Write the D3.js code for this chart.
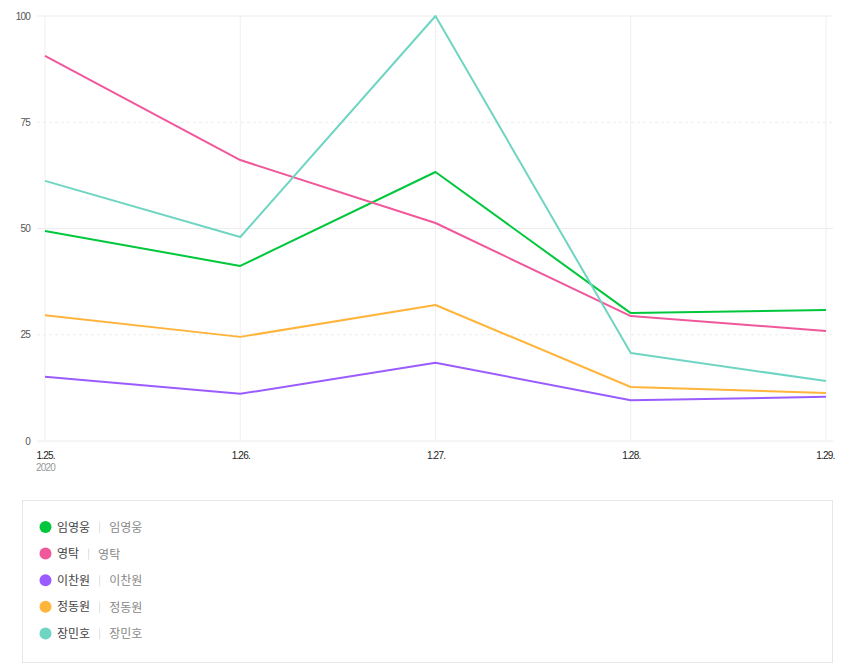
<!DOCTYPE html>
<html><head><meta charset="utf-8">
<script src="https://cdn.jsdelivr.net/npm/d3@7"></script>
<style>
body{margin:0;background:#fff;font-family:"Noto Sans CJK KR","Noto Sans",sans-serif;}
</style></head><body>
<svg id="chart" width="850" height="672"></svg>
<script>
const dates = ["1.25.", "1.26.", "1.27.", "1.28.", "1.29."];
const yearLabel = "2020";
const yTicks = [0, 25, 50, 75, 100];
const names = ["임영웅", "영탁", "이찬원", "정동원", "장민호"];
const colors = ["#00c73c", "#f0589b", "#9b5cff", "#ffb43c", "#6fd5c3"];
const s_limyoungwoong = [49.4, 41.2, 63.3, 30.1, 30.8];
const s_youngtak = [90.6, 66.1, 51.3, 29.4, 25.9];
const s_leechanwon = [15.1, 11.1, 18.4, 9.6, 10.4];
const s_jungdongwon = [29.6, 24.5, 32.0, 12.7, 11.3];
const s_jangminho = [61.2, 48.0, 100, 20.7, 14.1];
const series = [s_limyoungwoong, s_youngtak, s_leechanwon, s_jungdongwon, s_jangminho];

const svg = d3.select("#chart");
const x = d3.scalePoint().domain(dates).range([45, 826]);
const y = d3.scaleLinear().domain([0, 100]).range([441, 16]);

// horizontal grid
const g = svg.append("g");
yTicks.forEach((t, i) => {
  g.append("line").attr("x1", 37).attr("x2", 833).attr("y1", y(t)).attr("y2", y(t))
    .attr("stroke", "#ececec").attr("stroke-width", 1)
    .attr("stroke-dasharray", (t === 25 || t === 75) ? "3,3" : null);
});
// vertical grid
dates.forEach(d => {
  g.append("line").attr("x1", x(d)).attr("x2", x(d)).attr("y1", y(100)).attr("y2", y(0))
    .attr("stroke", "#efefef").attr("stroke-width", 1);
});

// y axis
const yAxis = d3.axisLeft(y).tickValues(yTicks).tickSize(0).tickPadding(0);
const ya = svg.append("g").attr("transform", "translate(30,0)").call(yAxis);
ya.select(".domain").remove();
ya.selectAll("text").attr("font-family", "'Liberation Sans',sans-serif").attr("font-size", 10).attr("fill", "#555").attr("letter-spacing", "-0.8");

// x axis
const xAxis = d3.axisBottom(x).tickSize(0).tickPadding(0);
const xa = svg.append("g").attr("transform", "translate(0,452)").call(xAxis);
xa.select(".domain").remove();
xa.selectAll("text").attr("font-family", "'Liberation Sans',sans-serif").attr("font-size", 10).attr("fill", "#222").attr("letter-spacing", "-0.8")
  .attr("text-anchor", (d, i) => i === 0 ? "start" : (i === dates.length - 1 ? "end" : "middle"))
  .attr("dx", (d, i) => i === 0 ? -9 : (i === dates.length - 1 ? 8 : 0));
svg.append("text").attr("x", 36).attr("y", 471).text(yearLabel)
  .attr("font-family", "'Liberation Sans',sans-serif").attr("font-size", 10).attr("fill", "#999").attr("letter-spacing", "-0.8");

// lines
const line = d3.line().x((v, i) => x(dates[i])).y(v => y(v));
series.forEach((s, k) => {
  svg.append("path").datum(s).attr("d", line).attr("fill", "none")
    .attr("stroke", colors[k]).attr("stroke-width", 2).attr("stroke-linejoin", "round");
});

// legend
svg.append("rect").attr("x", 22.5).attr("y", 500.5).attr("width", 810).attr("height", 162)
  .attr("fill", "#fff").attr("stroke", "#e6e6e6");
names.forEach((n, i) => {
  const yy = 527 + i * 26.6;
  svg.append("circle").attr("cx", 45.5).attr("cy", yy).attr("r", 6).attr("fill", colors[i]);
  const t1 = svg.append("text").attr("x", 57).attr("y", yy + 4.5).text(n)
    .attr("font-size", 12).attr("font-weight", 400).attr("fill", "#444");
  const w = t1.node().getComputedTextLength();
  svg.append("line").attr("x1", 57 + w + 9.5).attr("x2", 57 + w + 9.5).attr("y1", yy - 5).attr("y2", yy + 6)
    .attr("stroke", "#e0e0e0");
  svg.append("text").attr("x", 57 + w + 19).attr("y", yy + 5).text(n)
    .attr("font-size", 12).attr("fill", "#888");
});
</script>
</body></html>
